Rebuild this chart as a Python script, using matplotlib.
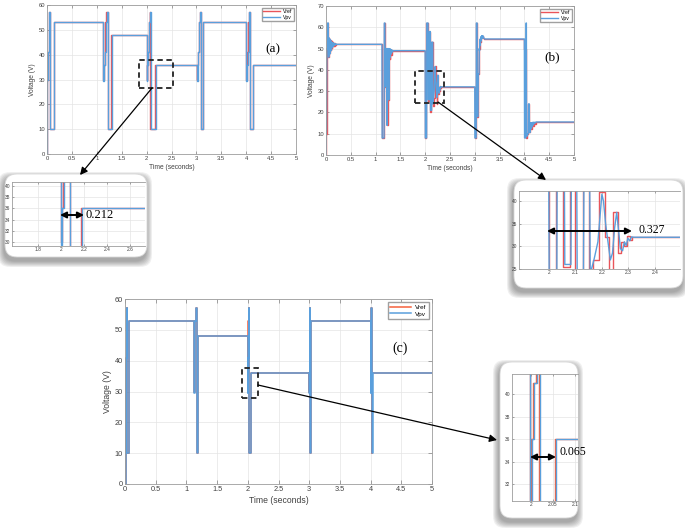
import matplotlib
matplotlib.use('Agg')
import matplotlib.pyplot as plt
from matplotlib.patches import FancyBboxPatch, Rectangle

plt.rcParams['font.family'] = ['Liberation Sans', 'DejaVu Sans']

# ---------------- data ----------------
series_names = ['Vref', 'Vpv']

# panel (a): step profiles (time s, voltage V)
ta_ref = [0.000, 0.005, 0.015, 0.025, 0.035, 0.045, 0.060, 0.140,
          1.130, 1.140, 1.155, 1.170, 1.190, 1.215, 1.290,
          2.000, 2.005, 2.020, 2.040, 2.060, 2.075, 2.170,
          3.010, 3.020, 3.035, 3.055, 3.070, 3.085, 3.125,
          4.000, 4.010, 4.025, 4.045, 4.060, 4.075, 4.130, 5.000]
va_ref = [0, 30, 36, 41, 53, 57, 10, 53,
          30, 36, 41, 53, 57, 10, 48,
          30, 36, 41, 53, 57, 10, 36,
          30, 36, 41, 53, 57, 10, 53,
          30, 36, 41, 53, 57, 10, 36, 36]
ta_pv = [0.000, 0.008, 0.018, 0.028, 0.038, 0.050, 0.068, 0.150,
         1.125, 1.145, 1.160, 1.175, 1.195, 1.222, 1.300,
         1.998, 2.008, 2.025, 2.045, 2.063, 2.080, 2.180,
         3.005, 3.025, 3.040, 3.060, 3.075, 3.092, 3.135,
         3.997, 4.015, 4.030, 4.050, 4.065, 4.082, 4.140, 5.000]
va_pv = [0, 30, 36, 41, 53, 57, 10, 53,
         29.5, 36, 41, 53, 57, 10, 48,
         29.5, 36, 41, 53, 57, 10, 36,
         29.5, 36, 41, 53, 57, 10, 53,
         29.5, 36, 41, 53, 57, 10, 36, 36]

# panel (b): oscillating responses
tb_ref = [0.000, 0.005, 0.015, 0.030, 0.045, 0.058, 0.070, 0.082, 0.094, 0.106, 0.118, 0.130,
          0.142, 0.154, 0.166, 0.178, 0.190, 0.205,
          1.130, 1.172, 1.192, 1.205, 1.222, 1.240, 1.258, 1.275, 1.288, 1.300, 1.312, 1.324, 1.336,
          2.000, 2.026, 2.054, 2.080, 2.100, 2.127, 2.150, 2.168, 2.190, 2.211, 2.228, 2.242,
          2.260, 2.274, 2.285, 2.295, 2.305, 2.315,
          3.000, 3.030, 3.050, 3.070, 3.088, 3.100, 3.115, 3.135, 3.155, 3.175, 3.195,
          4.000, 4.025, 4.060, 4.080, 4.100, 4.120, 4.140, 4.160, 4.180, 4.200, 4.220, 4.240,
          5.000]
vb_ref = [0, 10, 50, 62, 46, 55, 48, 54, 49.5, 53.5, 50.5, 53,
          51, 52.7, 51.4, 52.4, 51.7, 52,
          8, 62, 32, 50, 14, 50, 26, 50, 45, 49.5, 47, 49.3, 49,
          8, 62, 25.5, 58, 20, 53, 23, 27, 42, 32, 24, 37.5,
          28.5, 31, 30, 32.3, 31.5, 32,
          8, 62, 18, 38, 50, 53, 54.5, 55.5, 56, 55, 54.5,
          50, 8, 10, 24, 11, 15, 12, 15, 13.5, 15.2, 14.5, 15.5,
          15.5]
tb_pv = [0.000, 0.002, 0.010, 0.018, 0.030, 0.034, 0.046, 0.050, 0.060, 0.064, 0.072, 0.076,
         0.080, 0.084, 0.088, 0.092, 0.096, 0.100, 0.104, 0.108, 0.112, 0.116, 0.120, 0.124,
         0.128, 0.132, 0.136, 0.140, 0.145, 0.150, 0.155, 0.160, 0.166, 0.172, 0.178, 0.185,
         0.192, 0.200, 0.210, 0.220,
         1.128, 1.132, 1.170, 1.176, 1.188, 1.194, 1.200, 1.206, 1.218, 1.224, 1.236, 1.242,
         1.254, 1.260, 1.272, 1.278, 1.284, 1.290, 1.295, 1.300, 1.305, 1.310, 1.315, 1.320,
         1.326, 1.332, 1.338, 1.345, 1.355, 1.365,
         1.999, 2.002, 2.029, 2.032, 2.057, 2.060, 2.083, 2.086, 2.104, 2.107, 2.130, 2.133,
         2.153, 2.156, 2.170, 2.185, 2.200, 2.206, 2.214, 2.222, 2.232, 2.240, 2.248, 2.256,
         2.262, 2.270, 2.278, 2.285, 2.292, 2.298, 2.305, 2.312, 2.320,
         2.999, 3.002, 3.028, 3.032, 3.046, 3.050, 3.066, 3.070, 3.085, 3.090, 3.096, 3.102,
         3.106, 3.110, 3.114, 3.118, 3.122, 3.126, 3.130, 3.135, 3.140, 3.145, 3.150, 3.157,
         3.165, 3.172, 3.180, 3.190, 3.200,
         3.999, 4.003, 4.030, 4.034, 4.040, 4.044, 4.060, 4.065, 4.078, 4.083, 4.098, 4.102,
         4.106, 4.110, 4.114, 4.118, 4.122, 4.126, 4.130, 4.135, 4.140, 4.146, 4.152, 4.158,
         4.165, 4.172, 4.180, 4.190, 4.200, 4.215, 4.230, 4.250, 5.000]
vb_pv = [0, 8, 12, 50, 50, 62, 62, 46, 46, 55, 48, 54.5,
         47.5, 54, 48.5, 53.8, 49, 53.5, 49.5, 53.3, 50, 53, 50.5, 52.8,
         50.8, 52.7, 51, 52.6, 51.2, 52.5, 51.4, 52.4, 51.5, 52.3, 51.7, 52.2,
         51.8, 52.1, 51.9, 52,
         52, 8, 8, 62, 62, 32, 33, 50, 50, 14, 14, 50,
         50, 26, 26, 50, 45.5, 49.5, 46.5, 49.8, 47.2, 49.5, 47.8, 49.3,
         48.2, 49.2, 48.6, 49.1, 48.9, 49,
         49, 8, 8, 62, 62, 26, 26, 58, 58, 21, 21, 53,
         53, 24, 27, 31, 41.5, 40, 35, 31.5, 27, 28.5, 34, 37.5,
         34, 29.5, 29, 31, 30.2, 31.8, 31.2, 32.1, 32,
         32, 8, 8, 62, 62, 18, 18, 38, 38, 50, 49, 53,
         51.5, 54.5, 52.5, 55, 53.5, 55.5, 54, 55.8, 54.5, 56, 55, 56,
         55.3, 55.8, 55, 54.8, 54.5,
         54.5, 8, 8, 62, 62, 9, 9, 10, 10, 24, 24, 11,
         14, 10.5, 15, 11.5, 14.8, 12, 15.2, 12.5, 15, 13, 15.2, 13.5,
         15.3, 14, 15.4, 14.6, 15.4, 15, 15.5, 15.5, 15.5]

# panel (c): faster step profiles
tc_ref = [0.000, 0.010, 0.015, 0.020, 0.025, 0.030, 0.038, 0.060,
          1.130, 1.135, 1.140, 1.145, 1.150, 1.165, 1.185,
          1.999, 2.001, 2.005, 2.011, 2.014, 2.018, 2.054,
          3.000, 3.003, 3.006, 3.009, 3.012, 3.018, 3.030,
          4.000, 4.003, 4.006, 4.009, 4.012, 4.018, 4.030, 5.000]
vc_ref = [0, 30, 36, 41, 53, 57, 10, 53,
          30, 36, 41, 53, 57, 10, 48,
          30, 36, 41, 53, 57, 10, 36,
          30, 36, 41, 53, 57, 10, 53,
          30, 36, 41, 53, 57, 10, 36, 36]
tc_pv = [0.000, 0.012, 0.017, 0.022, 0.027, 0.032, 0.040, 0.065,
         1.128, 1.137, 1.142, 1.147, 1.152, 1.168, 1.190,
         1.9985, 2.002, 2.007, 2.013, 2.016, 2.020, 2.057,
         2.9985, 3.005, 3.008, 3.011, 3.014, 3.021, 3.035,
         3.9985, 4.005, 4.008, 4.011, 4.014, 4.021, 4.035, 5.000]
vc_pv = [0, 30, 36, 41, 53, 57, 10, 53,
         29.5, 36, 41, 53, 57, 10, 48,
         29.5, 36, 41, 53, 57, 10, 36,
         29.5, 36, 41, 53, 57, 10, 53,
         29.5, 36, 41, 53, 57, 10, 36, 36]

x_ticks = [0, 0.5, 1, 1.5, 2, 2.5, 3, 3.5, 4, 4.5, 5]
x_tick_labels = ['0', '0.5', '1', '1.5', '2', '2.5', '3', '3.5', '4', '4.5', '5']
y60_ticks = [0, 10, 20, 30, 40, 50, 60]
y70_ticks = [0, 10, 20, 30, 40, 50, 60, 70]
ins_a_xticks = [1.8, 2, 2.2, 2.4, 2.6]
ins_a_xlabels = ['1.8', '2', '2.2', '2.4', '2.6']
ins_a_yticks = [30, 32, 34, 36, 38, 40]
ins_b_xticks = [2, 2.1, 2.2, 2.3, 2.4]
ins_b_xlabels = ['2', '2.1', '2.2', '2.3', '2.4']
ins_b_yticks = [25, 30, 35, 40]
ins_c_xticks = [2, 2.05, 2.1]
ins_c_xlabels = ['2', '2.05', '2.1']
ins_c_yticks = [32, 34, 36, 38, 40]
delay_labels = ['0.212', '0.327', '0.065']
panel_labels = ['(a)', '(b)', '(c)']

# ---------------- figure ----------------
W, H = 685, 529
fig = plt.figure(figsize=(W / 100, H / 100), dpi=100)
fig.patch.set_facecolor('white')

RED = '#e9555a'
RED_C = '#f5603c'
BLUE = '#5a9fdc'
SERIF = ['Liberation Serif', 'DejaVu Serif']


def add_ax(l, t, r, b, z=2):
    return fig.add_axes([l / W, 1 - b / H, (r - l) / W, (b - t) / H], zorder=z)


def matlab_style(ax, fs, tl=2.5):
    ax.tick_params(direction='in', top=True, right=True, labelsize=fs,
                   labelcolor='#404040', color='#808080', length=tl, width=0.5, pad=1.5)
    for s in ax.spines.values():
        s.set_color('#9c9c9c')
        s.set_linewidth(0.6)
    ax.grid(True, color='#e4e4e4', lw=0.5)
    ax.set_axisbelow(True)


def draw(ax, tr, vr, tp, vp, pv_steps=True, red=RED, lw=1.0):
    ax.plot(tr, vr, drawstyle='steps-post', color=red, lw=lw, label=series_names[0])
    if pv_steps:
        ax.plot(tp, vp, drawstyle='steps-post', color=BLUE, lw=lw, label=series_names[1])
    else:
        ax.plot(tp, vp, color=BLUE, lw=lw, label=series_names[1])


# background overlay for rounded inset boxes
bg = fig.add_axes([0, 0, 1, 1], zorder=0)
bg.set_xlim(0, W)
bg.set_ylim(0, H)
bg.axis('off')


def rbox(l, t, r, b, rad=12):
    for i in range(7):
        p = 6 - i * 0.9
        bg.add_patch(FancyBboxPatch((l - 1, H - b - 4), r - l, b - t,
                                    boxstyle='round,pad=%g,rounding_size=%g' % (p, rad),
                                    fc='#303030', ec='none', alpha=0.07))
    bg.add_patch(FancyBboxPatch((l, H - b), r - l, b - t,
                                boxstyle='round,pad=0,rounding_size=%g' % rad,
                                fc='white', ec='#d8d8d8', lw=0.6))


rbox(5, 174, 147, 257)
rbox(514, 180, 683, 288)
rbox(500, 362, 578, 518)

# ---- panel (a)
axA = add_ax(47, 5, 296, 154)
draw(axA, ta_ref, va_ref, ta_pv, va_pv)
axA.set_xlim(0, 5)
axA.set_ylim(0, 60)
axA.set_xticks(x_ticks)
axA.set_xticklabels(x_tick_labels)
axA.set_yticks(y60_ticks)
matlab_style(axA, 4.2)
axA.set_xlabel('Time (seconds)', fontsize=4.8, color='#404040', labelpad=2)
axA.set_ylabel('Voltage (V)', fontsize=4.8, color='#404040', labelpad=2)
axA.legend(loc='upper right', fontsize=3.6, handlelength=3.4, fancybox=False,
           edgecolor='#a0a0a0', framealpha=1, borderpad=0.3, labelspacing=0.15,
           handletextpad=0.5, borderaxespad=0.5)
axA.add_patch(Rectangle((1.85, 26.5), 0.68, 11.3, fill=False, ec='#222222', lw=1.3,
                        ls=(0, (3, 2)), zorder=5))

# ---- panel (b)
axB = add_ax(326, 6, 574, 155)
draw(axB, tb_ref, vb_ref, tb_pv, vb_pv, pv_steps=False)
axB.set_xlim(0, 5)
axB.set_ylim(0, 70)
axB.set_xticks(x_ticks)
axB.set_xticklabels(x_tick_labels)
axB.set_yticks(y70_ticks)
matlab_style(axB, 4.2)
axB.set_xlabel('Time (seconds)', fontsize=4.8, color='#404040', labelpad=2)
axB.set_ylabel('Voltage (V)', fontsize=4.8, color='#404040', labelpad=2)
axB.legend(loc='upper right', fontsize=3.6, handlelength=3.4, fancybox=False,
           edgecolor='#a0a0a0', framealpha=1, borderpad=0.3, labelspacing=0.15,
           handletextpad=0.5, borderaxespad=0.5)
axB.add_patch(Rectangle((1.79, 24.5), 0.59, 15.0, fill=False, ec='#222222', lw=1.3,
                        ls=(0, (3, 2)), zorder=5))

# ---- panel (c)
axC = add_ax(125, 299, 432, 484)
draw(axC, tc_ref, vc_ref, tc_pv, vc_pv, red=RED_C, lw=1.1)
axC.set_xlim(0, 5)
axC.set_ylim(0, 60)
axC.set_xticks(x_ticks)
axC.set_xticklabels(x_tick_labels)
axC.set_yticks(y60_ticks)
matlab_style(axC, 5.3, tl=3)
axC.set_xlabel('Time (seconds)', fontsize=6.2, color='#404040', labelpad=2)
axC.set_ylabel('Voltage (V)', fontsize=6.2, color='#404040', labelpad=2)
axC.legend(loc='upper right', fontsize=4.6, handlelength=3.3, fancybox=False,
           edgecolor='#a0a0a0', framealpha=1, borderpad=0.35, labelspacing=0.2,
           handletextpad=0.6, borderaxespad=0.5)
axC.add_patch(Rectangle((1.905, 27.9), 0.261, 9.7, fill=False, ec='#222222', lw=1.3,
                        ls=(0, (3, 2)), zorder=5))


def inset(l, t, r, b, xl, yl, xt, xtl, yt, tr, vr, tp, vp, pv_steps=True, red=RED):
    ax = add_ax(l, t, r, b, z=2)
    draw(ax, tr, vr, tp, vp, pv_steps=pv_steps, red=red, lw=1.0)
    ax.set_xlim(*xl)
    ax.set_ylim(*yl)
    ax.set_xticks(xt)
    ax.set_xticklabels(xtl)
    ax.set_yticks(yt)
    matlab_style(ax, 3.5, tl=1.5)
    ax.tick_params(right=False, pad=1)
    ax.spines['right'].set_visible(False)
    return ax


inset(12, 182, 145, 246, (1.574, 2.730), (29.29, 40.71), ins_a_xticks, ins_a_xlabels,
      ins_a_yticks, ta_ref, va_ref, ta_pv, va_pv)
inset(519, 191, 680, 269, (1.887, 2.495), (25, 42.2), ins_b_xticks, ins_b_xlabels,
      ins_b_yticks, tb_ref, vb_ref, tb_pv, vb_pv, pv_steps=False)
inset(512, 374, 578, 501, (1.957, 2.107), (30.49, 41.78), ins_c_xticks, ins_c_xlabels,
      ins_c_yticks, tc_ref, vc_ref, tc_pv, vc_pv, red=RED_C)

# foreground overlay: arrows and annotations (pixel coordinates)
fg = fig.add_axes([0, 0, 1, 1], zorder=5)
fg.set_xlim(0, W)
fg.set_ylim(H, 0)
fg.axis('off')

for (x0, y0, x1, y1) in [(152, 88, 80, 175), (438, 102, 546, 180), (258, 385, 497, 440)]:
    fg.annotate('', xy=(x1, y1), xytext=(x0, y0),
                arrowprops=dict(arrowstyle='-|>', color='black', lw=0.9,
                                mutation_scale=11, shrinkA=0, shrinkB=0))

for (x0, x1, y) in [(60, 84, 215), (547, 632, 231), (530, 556, 457)]:
    fg.annotate('', xy=(x1, y), xytext=(x0, y),
                arrowprops=dict(arrowstyle='<|-|>', color='black', lw=1.4,
                                mutation_scale=9, shrinkA=0, shrinkB=0))

fg.text(86, 215, delay_labels[0], fontsize=9, family=SERIF, va='center', ha='left')
fg.text(639, 230, delay_labels[1], fontsize=8.5, family=SERIF, va='center', ha='left')
fg.text(560, 452, delay_labels[2], fontsize=8.5, family=SERIF, va='center', ha='left')

fg.text(273, 49, panel_labels[0], fontsize=9.5, family=SERIF, va='center', ha='center')
fg.text(552, 57, panel_labels[1], fontsize=9.5, family=SERIF, va='center', ha='center')
fg.text(400, 348, panel_labels[2], fontsize=10, family=SERIF, va='center', ha='center')

fig.savefig('out.png', dpi=100)
